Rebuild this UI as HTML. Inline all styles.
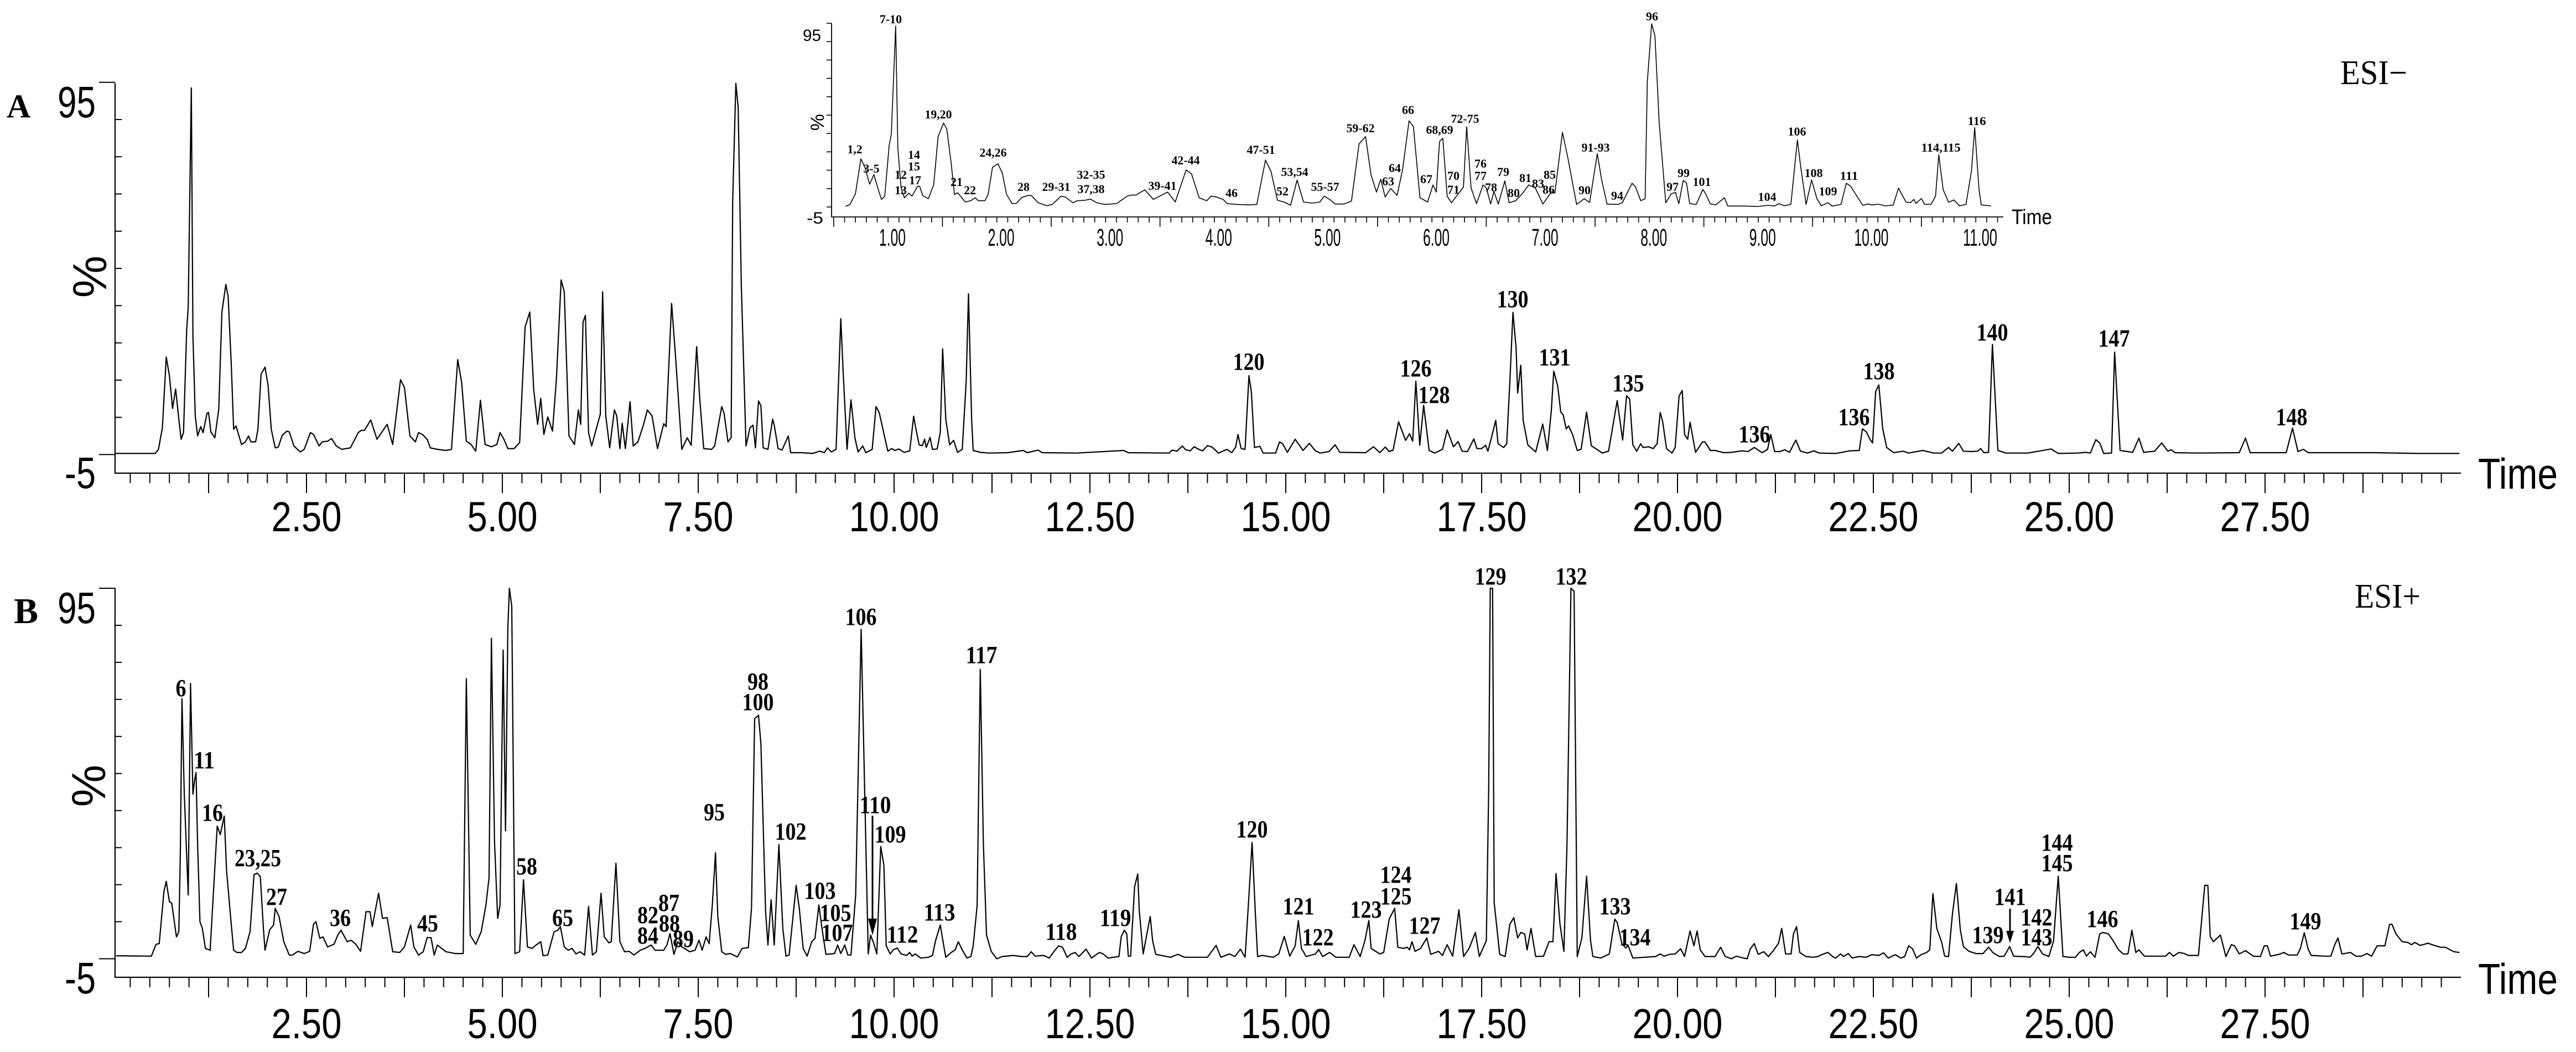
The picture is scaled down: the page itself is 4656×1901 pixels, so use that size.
<!DOCTYPE html>
<html><head><meta charset="utf-8"><style>
html,body{margin:0;padding:0;background:#fff;}
svg{display:block;}
.ax{font-family:"Liberation Sans",sans-serif;fill:#000;}
.pl{font-family:"Liberation Serif",serif;font-weight:bold;fill:#000;font-size:44px;text-anchor:middle;}
.il{font-family:"Liberation Serif",serif;font-weight:bold;fill:#000;font-size:22px;text-anchor:middle;}
</style></head><body>
<svg id="chart" width="4656" height="1901" viewBox="0 0 4656 1901" xmlns="http://www.w3.org/2000/svg">
<rect width="4656" height="1901" fill="#fff"/>
<g id="panelA">
 <text x="12" y="212" font-family="Liberation Serif" font-weight="bold" font-size="60">A</text>
 <text class="ax" x="173" y="212" font-size="80" text-anchor="end" textLength="69" lengthAdjust="spacingAndGlyphs">95</text>
 <text class="ax" x="173" y="882" font-size="80" text-anchor="end" textLength="56" lengthAdjust="spacingAndGlyphs">-5</text>
 <text class="ax" transform="translate(192,500) rotate(-90)" font-size="86" text-anchor="middle">%</text>
 <text class="ax" x="4479" y="883" font-size="78" textLength="144" lengthAdjust="spacingAndGlyphs">Time</text>
 <text x="4230" y="152" font-family="Liberation Serif" font-size="62" textLength="121" lengthAdjust="spacingAndGlyphs">ESI−</text>
 <text class="pl" x="2257" y="668">120</text>
 <text class="pl" x="2559" y="680">126</text>
 <text class="pl" x="2592" y="728">128</text>
 <text class="pl" x="2734" y="555">130</text>
 <text class="pl" x="2810" y="660">131</text>
 <text class="pl" x="2943" y="707">135</text>
 <text class="pl" x="3171" y="799">136</text>
 <text class="pl" x="3351" y="768">136</text>
 <text class="pl" x="3396" y="685">138</text>
 <text class="pl" x="3601" y="615">140</text>
 <text class="pl" x="3821" y="626">147</text>
 <text class="pl" x="4142" y="768">148</text>
</g>
<g id="inset">
 <text class="ax" x="1484" y="74" font-size="30" text-anchor="end" textLength="33" lengthAdjust="spacingAndGlyphs">95</text>
 <text class="ax" x="1488" y="404" font-size="30" text-anchor="end" textLength="30" lengthAdjust="spacingAndGlyphs">-5</text>
 <text class="ax" transform="translate(1489,221) rotate(-90)" font-size="34" text-anchor="middle">%</text>
 <text class="ax" x="3636" y="405" font-size="38" textLength="73" lengthAdjust="spacingAndGlyphs">Time</text>
 <text class="il" x="1610" y="42">7-10</text>
 <text class="il" x="1545" y="277">1,2</text>
 <text class="il" x="1575" y="312">3-5</text>
 <text class="il" x="1652" y="287">14</text>
 <text class="il" x="1652" y="308">15</text>
 <text class="il" x="1628" y="323">12</text>
 <text class="il" x="1654" y="333">17</text>
 <text class="il" x="1628" y="351">13</text>
 <text class="il" x="1696" y="214">19,20</text>
 <text class="il" x="1729" y="336">21</text>
 <text class="il" x="1753" y="351">22</text>
 <text class="il" x="1795" y="283">24,26</text>
 <text class="il" x="1850" y="345">28</text>
 <text class="il" x="1909" y="345">29-31</text>
 <text class="il" x="1972" y="323">32-35</text>
 <text class="il" x="1972" y="349">37,38</text>
 <text class="il" x="2101" y="343">39-41</text>
 <text class="il" x="2143" y="297">42-44</text>
 <text class="il" x="2226" y="356">46</text>
 <text class="il" x="2279" y="278">47-51</text>
 <text class="il" x="2318" y="353">52</text>
 <text class="il" x="2340" y="318">53,54</text>
 <text class="il" x="2395" y="345">55-57</text>
 <text class="il" x="2459" y="239">59-62</text>
 <text class="il" x="2509" y="335">63</text>
 <text class="il" x="2521" y="311">64</text>
 <text class="il" x="2545" y="206">66</text>
 <text class="il" x="2578" y="331">67</text>
 <text class="il" x="2602" y="242">68,69</text>
 <text class="il" x="2648" y="222">72-75</text>
 <text class="il" x="2627" y="325">70</text>
 <text class="il" x="2627" y="350">71</text>
 <text class="il" x="2676" y="303">76</text>
 <text class="il" x="2676" y="325">77</text>
 <text class="il" x="2695" y="346">78</text>
 <text class="il" x="2717" y="318">79</text>
 <text class="il" x="2736" y="356">80</text>
 <text class="il" x="2757" y="329">81</text>
 <text class="il" x="2780" y="339">83</text>
 <text class="il" x="2801" y="323">85</text>
 <text class="il" x="2799" y="350">86</text>
 <text class="il" x="2864" y="351">90</text>
 <text class="il" x="2884" y="274">91-93</text>
 <text class="il" x="2923" y="361">94</text>
 <text class="il" x="2986" y="37">96</text>
 <text class="il" x="3023" y="345">97</text>
 <text class="il" x="3043" y="320">99</text>
 <text class="il" x="3076" y="336">101</text>
 <text class="il" x="3194" y="363">104</text>
 <text class="il" x="3248" y="245">106</text>
 <text class="il" x="3278" y="320">108</text>
 <text class="il" x="3304" y="353">109</text>
 <text class="il" x="3342" y="325">111</text>
 <text class="il" x="3508" y="274">114,115</text>
 <text class="il" x="3573" y="226">116</text>
</g>
<g id="panelB">
 <text x="25" y="1126" font-family="Liberation Serif" font-weight="bold" font-size="66">B</text>
 <text class="ax" x="173" y="1126" font-size="80" text-anchor="end" textLength="69" lengthAdjust="spacingAndGlyphs">95</text>
 <text class="ax" x="173" y="1795" font-size="80" text-anchor="end" textLength="56" lengthAdjust="spacingAndGlyphs">-5</text>
 <text class="ax" transform="translate(190,1420) rotate(-90)" font-size="86" text-anchor="middle">%</text>
 <text class="ax" x="4479" y="1796" font-size="78" textLength="144" lengthAdjust="spacingAndGlyphs">Time</text>
 <text x="4256" y="1098" font-family="Liberation Serif" font-size="62" textLength="119" lengthAdjust="spacingAndGlyphs">ESI+</text>
 <text class="pl" x="327" y="1258">6</text>
 <text class="pl" x="369" y="1388">11</text>
 <text class="pl" x="384" y="1483">16</text>
 <text class="pl" x="466" y="1565">23,25</text>
 <text class="pl" x="500" y="1635">27</text>
 <text class="pl" x="615" y="1673">36</text>
 <text class="pl" x="773" y="1683">45</text>
 <text class="pl" x="952" y="1580">58</text>
 <text class="pl" x="1017" y="1673">65</text>
 <text class="pl" x="1171" y="1668">82</text>
 <text class="pl" x="1209" y="1646">87</text>
 <text class="pl" x="1210" y="1683">88</text>
 <text class="pl" x="1171" y="1705">84</text>
 <text class="pl" x="1235" y="1711">89</text>
 <text class="pl" x="1291" y="1482">95</text>
 <text class="pl" x="1370" y="1246">98</text>
 <text class="pl" x="1370" y="1283">100</text>
 <text class="pl" x="1429" y="1517">102</text>
 <text class="pl" x="1482" y="1624">103</text>
 <text class="pl" x="1510" y="1664">105</text>
 <text class="pl" x="1513" y="1700">107</text>
 <text class="pl" x="1556" y="1129">106</text>
 <text class="pl" x="1582" y="1469">110</text>
 <text class="pl" x="1609" y="1522">109</text>
 <text class="pl" x="1631" y="1703">112</text>
 <text class="pl" x="1698" y="1663">113</text>
 <text class="pl" x="1774" y="1198">117</text>
 <text class="pl" x="1918" y="1698">118</text>
 <text class="pl" x="2016" y="1673">119</text>
 <text class="pl" x="2263" y="1513">120</text>
 <text class="pl" x="2347" y="1652">121</text>
 <text class="pl" x="2382" y="1708">122</text>
 <text class="pl" x="2469" y="1658">123</text>
 <text class="pl" x="2523" y="1595">124</text>
 <text class="pl" x="2523" y="1634">125</text>
 <text class="pl" x="2575" y="1687">127</text>
 <text class="pl" x="2694" y="1056">129</text>
 <text class="pl" x="2840" y="1056">132</text>
 <text class="pl" x="2919" y="1652">133</text>
 <text class="pl" x="2955" y="1708">134</text>
 <text class="pl" x="3593" y="1704">139</text>
 <text class="pl" x="3633" y="1635">141</text>
 <text class="pl" x="3681" y="1672">142</text>
 <text class="pl" x="3681" y="1708">143</text>
 <text class="pl" x="3718" y="1537">144</text>
 <text class="pl" x="3718" y="1574">145</text>
 <text class="pl" x="3800" y="1675">146</text>
 <text class="pl" x="4167" y="1679">149</text>
 <g><line x1="1577" y1="1474" x2="1577" y2="1670" stroke="#000" stroke-width="3"/><polygon points="1569,1660 1585,1660 1577,1690" fill="#000"/></g>
 <g><line x1="3633" y1="1642" x2="3633" y2="1690" stroke="#000" stroke-width="3"/><polygon points="3626,1682 3640,1682 3633,1704" fill="#000"/></g>
</g>
</svg>
<script>
// ESI- (panel A) trace: retention time (min) and relative intensity (%)
const aTime=[0.05,0.57,0.61,0.66,0.71,0.75,0.79,0.83,0.87,0.90,0.93,0.97,0.99,1.03,1.05,1.08,1.11,1.15,1.18,1.23,1.25,1.28,1.33,1.38,1.42,1.47,1.50,1.54,1.57,1.60,1.67,1.72,1.76,1.79,1.85,1.88,1.92,1.97,2.01,2.05,2.10,2.14,2.19,2.25,2.28,2.34,2.42,2.47,2.55,2.59,2.66,2.70,2.77,2.82,2.88,2.95,3.06,3.16,3.20,3.24,3.32,3.40,3.47,3.53,3.60,3.70,3.75,3.82,3.89,3.93,3.98,4.04,4.08,4.17,4.28,4.35,4.43,4.48,4.54,4.60,4.66,4.72,4.78,4.86,4.93,4.97,5.02,5.07,5.15,5.22,5.29,5.35,5.40,5.45,5.49,5.53,5.58,5.64,5.69,5.75,5.79,5.85,5.92,5.97,6.00,6.03,6.06,6.10,6.14,6.20,6.25,6.28,6.32,6.37,6.43,6.46,6.50,6.53,6.57,6.63,6.67,6.73,6.80,6.85,6.91,6.98,7.06,7.09,7.16,7.21,7.29,7.36,7.41,7.48,7.52,7.57,7.67,7.71,7.80,7.83,7.88,7.92,7.94,7.98,8.01,8.05,8.11,8.16,8.20,8.23,8.27,8.30,8.33,8.39,8.45,8.47,8.52,8.57,8.65,8.68,8.82,8.96,9.05,9.11,9.15,9.20,9.26,9.32,9.35,9.40,9.45,9.50,9.54,9.60,9.64,9.72,9.77,9.81,9.92,9.97,10.01,10.06,10.13,10.20,10.25,10.27,10.32,10.36,10.39,10.41,10.46,10.49,10.55,10.59,10.62,10.66,10.71,10.76,10.81,10.87,10.92,10.95,10.99,11.01,11.10,11.21,11.45,11.65,11.70,11.84,11.89,12.33,12.93,12.99,13.51,13.55,13.61,13.68,13.72,13.78,13.83,13.89,13.94,14.00,14.06,14.14,14.25,14.31,14.36,14.39,14.43,14.48,14.53,14.56,14.60,14.67,14.71,14.87,14.92,14.96,15.02,15.12,15.22,15.30,15.38,15.44,15.55,15.63,15.69,16.02,16.12,16.20,16.27,16.32,16.37,16.44,16.53,16.58,16.62,16.66,16.71,16.76,16.83,16.90,17.00,17.06,17.14,17.20,17.25,17.32,17.40,17.44,17.50,17.55,17.58,17.62,17.68,17.71,17.78,17.82,17.86,17.90,17.94,17.96,18.00,18.03,18.09,18.19,18.28,18.34,18.39,18.42,18.47,18.51,18.54,18.58,18.61,18.66,18.72,18.77,18.84,18.90,19.04,19.12,19.23,19.30,19.35,19.39,19.43,19.48,19.53,19.56,19.63,19.69,19.74,19.78,19.81,19.86,19.93,19.97,20.02,20.06,20.09,20.13,20.16,20.23,20.32,20.35,20.42,20.48,20.59,20.69,20.82,20.90,20.98,21.08,21.15,21.19,21.24,21.31,21.37,21.43,21.51,21.57,21.66,21.74,21.81,22.02,22.20,22.32,22.36,22.41,22.46,22.49,22.53,22.57,22.62,22.67,22.76,22.88,22.95,23.13,23.27,23.37,23.46,23.51,23.59,23.65,23.75,23.83,23.87,23.91,23.97,24.02,24.09,24.19,24.47,24.77,24.86,25.11,25.21,25.27,25.34,25.39,25.44,25.54,25.58,25.65,25.81,25.89,25.95,26.09,26.18,26.26,26.30,26.35,26.65,27.17,27.25,27.31,27.77,27.85,27.92,27.99,28.05,28.89,29.45,29.98];
const aValue=[0.3,0.3,1.4,7.2,26.2,21.2,12.4,17.6,9.5,4.1,5.9,33.4,39.7,98.5,32.0,10.4,5.0,7.5,5.9,11.1,11.3,6.1,4.5,12.2,38.3,45.7,42.4,23.9,6.8,7.7,2.7,3.4,5.0,3.4,3.4,6.8,21.6,23.5,18.5,6.8,1.8,2.0,5.2,6.3,6.1,2.3,0.7,1.4,5.9,5.4,2.3,3.4,3.6,4.3,2.3,1.4,1.8,5.9,6.5,6.5,9.3,4.1,6.3,8.1,2.7,20.1,18.0,5.0,3.4,5.9,5.4,4.1,1.8,1.4,1.1,1.4,25.5,19.4,3.6,2.7,0.9,14.6,2.7,2.1,2.7,5.9,4.1,1.6,1.6,3.2,34.3,38.3,17.6,8.1,15.1,5.4,10.1,6.3,20.3,46.9,43.7,5.0,2.7,12.0,8.1,35.6,37.4,5.9,2.3,7.0,10.8,43.7,10.4,1.8,12.0,10.4,1.6,8.4,1.6,14.2,2.3,3.4,7.9,12.0,10.4,1.6,8.3,7.5,40.6,26.6,1.4,4.5,2.5,29.0,14.9,1.6,1.4,2.3,12.9,11.1,3.4,4.5,68.0,99.7,93.3,45.5,2.3,7.2,7.9,1.8,14.4,13.1,1.8,1.4,9.5,7.9,1.6,1.2,5.0,0.5,0.5,0.3,0.9,0.5,1.8,0.7,1.4,36.5,22.1,1.4,14.7,4.5,0.7,2.3,0.5,1.4,12.9,11.3,0.9,1.6,1.1,1.5,0.6,1.0,10.3,7.9,2.6,2.4,4.1,1.9,4.6,1.4,1.5,5.9,28.4,9.4,2.6,3.8,0.6,1.4,19.5,43.2,9.4,1.1,0.6,0.4,0.5,1.1,0.5,1.2,0.5,0.4,1.1,0.5,0.4,1.2,0.9,2.3,1.3,1.0,2.1,1.4,1.0,2.4,2.0,0.4,1.4,0.5,2.0,5.4,1.6,1.4,21.2,16.9,1.9,2.2,0.4,0.4,3.4,2.9,0.6,4.1,1.1,3.0,1.0,0.4,0.8,2.6,0.6,0.5,2.1,0.5,2.0,0.8,1.2,8.8,3.8,5.6,3.6,19.7,2.5,13.2,1.1,0.4,1.4,6.6,2.1,3.5,0.9,0.8,4.2,1.6,1.6,2.5,0.9,4.1,9.2,2.9,1.9,2.9,19.5,38.2,28.5,16.5,24.0,9.2,2.6,0.7,8.2,1.1,11.9,22.4,18.5,11.4,10.7,6.9,7.7,5.4,1.1,1.4,11.4,2.4,0.4,0.9,14.5,3.9,15.8,14.9,2.6,0.9,2.9,1.9,2.1,1.6,2.9,11.3,8.9,1.6,0.4,1.9,15.7,17.2,5.4,4.1,8.7,0.6,3.4,3.4,1.1,1.1,0.5,0.6,1.0,0.8,1.9,0.5,1.4,5.4,0.8,0.8,1.3,0.6,3.9,0.9,0.4,1.0,0.4,0.3,1.0,1.1,6.9,6.1,4.0,3.1,16.9,18.7,6.9,1.9,0.5,0.9,0.4,1.1,0.4,0.4,1.9,0.9,3.0,0.9,0.8,0.9,1.6,0.5,0.6,29.6,1.1,0.4,0.4,1.5,0.3,0.4,0.6,0.4,4.0,3.1,0.3,0.4,27.5,1.1,0.6,4.4,0.6,0.9,3.1,0.9,1.3,0.5,0.4,0.5,4.4,0.5,0.5,7.1,0.8,1.4,0.5,0.5,0.3,0.3];
// ESI+ (panel B) trace
const bTime=[0.07,0.52,0.58,0.62,0.68,0.71,0.75,0.78,0.84,0.87,0.89,0.91,0.94,0.99,1.02,1.05,1.07,1.09,1.11,1.14,1.17,1.21,1.27,1.31,1.36,1.40,1.45,1.48,1.54,1.57,1.61,1.67,1.72,1.78,1.83,1.87,1.91,1.95,1.97,2.03,2.08,2.10,2.15,2.21,2.28,2.32,2.39,2.47,2.54,2.59,2.62,2.67,2.71,2.77,2.85,2.90,2.94,3.02,3.07,3.13,3.19,3.26,3.31,3.34,3.42,3.47,3.53,3.60,3.69,3.75,3.83,3.87,3.93,3.99,4.04,4.09,4.13,4.17,4.28,4.40,4.50,4.54,4.59,4.66,4.73,4.79,4.83,4.86,4.90,4.94,4.97,5.01,5.04,5.07,5.09,5.12,5.16,5.22,5.27,5.32,5.38,5.43,5.49,5.52,5.58,5.66,5.71,5.74,5.79,5.84,5.89,5.94,5.99,6.05,6.10,6.15,6.20,6.26,6.30,6.36,6.39,6.45,6.50,6.56,6.62,6.68,6.76,6.82,6.90,6.95,7.06,7.10,7.14,7.19,7.24,7.29,7.34,7.39,7.46,7.51,7.55,7.60,7.64,7.68,7.72,7.75,7.80,7.85,7.91,8.00,8.06,8.14,8.18,8.22,8.27,8.30,8.36,8.39,8.43,8.47,8.53,8.58,8.62,8.66,8.75,8.79,8.84,8.89,8.95,8.99,9.04,9.08,9.13,9.24,9.28,9.32,9.37,9.41,9.45,9.51,9.58,9.67,9.70,9.74,9.78,9.83,9.87,9.90,9.95,9.99,10.04,10.09,10.16,10.20,10.23,10.27,10.34,10.44,10.49,10.53,10.59,10.64,10.66,10.73,10.78,10.82,10.87,10.93,10.98,11.01,11.06,11.10,11.14,11.18,11.24,11.31,11.38,11.52,11.63,11.70,11.75,11.80,11.91,11.98,12.05,12.10,12.15,12.21,12.26,12.31,12.36,12.45,12.52,12.62,12.67,12.73,12.87,12.90,12.94,12.97,12.99,13.02,13.07,13.11,13.13,13.18,13.23,13.27,13.30,13.34,13.53,13.62,13.71,14.00,14.11,14.17,14.28,14.35,14.42,14.48,14.52,14.57,14.61,14.64,14.70,14.84,14.91,14.98,15.05,15.12,15.16,15.20,15.26,15.38,15.42,15.47,15.56,15.64,15.81,15.87,15.95,16.01,16.06,16.09,16.20,16.25,16.32,16.39,16.43,16.50,16.55,16.58,16.61,16.65,16.72,16.80,16.85,16.95,17.00,17.06,17.13,17.21,17.27,17.34,17.42,17.47,17.56,17.59,17.61,17.64,17.66,17.73,17.80,17.86,17.91,17.96,18.00,18.05,18.08,18.13,18.19,18.29,18.36,18.41,18.45,18.50,18.55,18.59,18.64,18.68,18.72,18.78,18.84,18.89,18.92,19.02,19.13,19.20,19.23,19.29,19.34,19.37,19.43,19.72,19.78,19.83,19.90,19.97,20.04,20.09,20.16,20.21,20.25,20.29,20.35,20.48,20.55,20.61,20.69,20.75,20.84,20.89,20.93,20.98,21.03,21.10,21.16,21.22,21.29,21.33,21.38,21.45,21.48,21.52,21.56,21.64,21.73,21.79,21.85,21.92,21.98,22.02,22.08,22.12,22.18,22.23,22.32,22.41,22.48,22.57,22.63,22.69,22.78,22.85,22.90,22.95,23.00,23.05,23.11,23.18,23.22,23.26,23.31,23.37,23.41,23.46,23.51,23.56,23.61,23.65,23.72,23.81,23.90,23.97,24.03,24.11,24.17,24.24,24.29,24.37,24.43,24.50,24.54,24.60,24.66,24.74,24.80,24.86,24.92,25.00,25.08,25.13,25.18,25.22,25.27,25.33,25.39,25.43,25.50,25.56,25.63,25.69,25.75,25.80,25.85,25.89,25.96,26.09,26.23,26.28,26.33,26.40,26.47,26.52,26.65,26.73,26.77,26.80,26.84,26.93,27.00,27.07,27.11,27.17,27.25,27.35,27.44,27.49,27.53,27.57,27.68,27.74,27.80,27.91,27.95,28.00,28.05,28.09,28.26,28.34,28.39,28.43,28.48,28.54,28.59,28.66,28.73,28.80,28.86,28.93,29.03,29.09,29.12,29.17,29.25,29.32,29.37,29.41,29.48,29.58,29.66,29.74,29.80,29.91,29.98];
const bValue=[0.8,0.7,3.9,4.1,18.2,20.9,15.4,15.0,5.9,7.3,29.0,70.2,44.4,17.2,74.3,44.4,48.0,50.3,30.8,10.0,8.2,2.8,2.3,17.2,35.8,33.5,38.5,23.6,9.1,2.3,1.7,1.7,2.8,7.3,22.7,23.1,22.2,8.2,2.3,7.8,9.1,13.6,11.4,4.6,1.0,1.0,2.0,1.4,2.0,9.3,10.0,5.5,5.9,3.2,3.9,6.4,7.7,4.6,5.0,3.9,2.0,12.7,12.7,8.7,17.7,10.9,11.1,1.9,1.7,3.2,9.1,3.2,1.0,1.9,5.7,5.7,1.0,3.7,1.9,1.4,1.4,75.6,6.4,3.9,7.3,14.5,21.8,86.5,31.7,10.9,14.5,83.3,34.5,89.2,100,95.1,1.4,1.9,21.3,3.2,2.8,3.7,4.6,0.8,1.0,7.3,7.7,8.7,3.2,2.3,2.8,1.3,1.9,1.0,14.1,1.0,1.9,17.7,5.9,4.3,4.6,25.8,4.6,1.9,2.0,1.0,2.3,2.8,3.7,2.3,2.3,3.7,6.8,1.2,4.6,3.2,2.6,1.9,2.3,5.0,2.3,5.9,4.1,14.5,28.6,11.4,1.9,1.2,1.4,0.5,2.8,3.0,13.6,64.8,65.7,58.0,12.7,3.7,15.9,3.7,30.8,8.2,0.7,1.0,19.8,13.6,2.8,0.7,4.6,5.5,14.5,8.2,1.2,1.4,3.7,1.4,3.7,1.0,1.0,17.2,88.9,1.3,6.4,4.2,1.3,30.3,25.2,3.5,1.3,2.4,2.9,1.3,0.9,1.7,0.7,1.3,0.2,0.4,0.9,4.9,9.1,2.8,0.4,1.7,2.4,4.6,2.4,0.2,0.6,3.5,14.3,78.1,31.0,6.4,2.0,0.0,0.6,0.9,0.6,0.6,1.9,0.7,0.9,0.2,2.2,3.5,3.1,0.4,1.3,1.7,0.6,2.6,0.2,1.7,1.3,0.2,0.6,6.0,7.7,6.7,0.7,0.7,19.4,22.9,12.9,1.3,7.1,11.4,4.9,1.2,0.4,1.2,0.4,0.4,3.6,0.4,1.3,0.6,2.6,0.4,13.6,31.4,12.9,0.6,0.9,0.4,1.3,6.0,0.7,3.5,10.3,2.8,0.6,1.3,2.5,0.6,1.7,0.4,0.4,3.8,0.6,4.9,10.3,2.8,1.3,1.7,10.7,13.6,3.1,2.8,3.1,2.4,4.6,2.0,2.8,5.6,1.2,2.0,0.9,3.8,0.7,13.2,0.6,2.8,7.1,0.6,4.9,45.5,100,100,15.1,1.2,0.6,9.3,11.1,5.6,7.1,6.7,2.4,8.2,0.6,0.7,4.6,4.6,23.0,9.3,2.0,31.0,100,99.2,0.6,5.6,22.3,4.9,0.6,0.2,1.3,10.7,9.8,4.1,2.9,3.6,0.2,0.6,1.3,0.7,1.2,1.3,2.7,0.6,7.5,3.5,7.5,2.4,0.6,0.6,3.1,0.6,0.0,0.7,0.2,0.0,2.7,4.1,1.2,1.9,0.6,2.1,4.2,8.2,1.3,1.3,6.7,8.7,1.7,0.6,0.4,0.6,1.2,1.7,0.6,0.2,1.3,0.6,1.4,0.2,0.6,0.4,1.1,0.9,1.6,0.2,1.1,0.2,0.6,3.5,2.7,0.2,1.1,1.7,2.4,17.6,8.2,4.6,0.7,0.6,12.2,20.3,7.8,3.3,2.0,1.4,1.4,3.1,1.6,0.6,0.7,3.3,0.7,0.6,0.6,0.4,1.3,3.3,1.3,0.6,4.8,22.3,0.6,0.4,0.4,1.7,2.4,0.7,1.9,0.4,6.7,7.1,6.7,4.9,2.4,1.3,1.3,7.7,1.7,2.4,0.7,0.7,0.7,1.7,0.7,1.7,1.4,0.9,0.9,19.8,19.8,6.0,4.6,6.4,0.6,3.8,3.5,1.3,2.2,0.7,0.6,3.5,3.5,0.7,1.2,1.7,1.0,1.0,2.7,7.0,2.6,0.9,0.7,0.7,3.8,5.6,1.3,1.5,1.7,0.7,0.7,1.4,0.7,3.5,3.5,9.3,9.3,6.7,4.6,4.4,3.8,4.4,3.6,4.2,3.6,3.1,3.1,1.9,1.7];
// axis definitions
const mainTickLabels=["2.50","5.00","7.50","10.00","12.50","15.00","17.50","20.00","22.50","25.00","27.50"];
const mainTickValues=[2.5,5,7.5,10,12.5,15,17.5,20,22.5,25,27.5];
const insetTickLabels=["1.00","2.00","3.00","4.00","5.00","6.00","7.00","8.00","9.00","10.00","11.00"];
const insetTickValues=[1,2,3,4,5,6,7,8,9,10,11];
const yTickValues=[100,90,80,70,60,50,40,30,20,10,0];

const NS="http://www.w3.org/2000/svg";
const svg=document.getElementById('chart');
const xMain=t=>200+t*141.6;
const yA=v=>821.4-v*6.727;
const yB=v=>1732.5-v*6.695;
const xIn=t=>1613+(t-1)*196.6;
const yIn=v=>374-v*3.32;

function mk(tag,attrs,parent){const e=document.createElementNS(NS,tag);for(const k in attrs)e.setAttribute(k,attrs[k]);(parent||svg).appendChild(e);return e;}

function drawAxes(yTop,yAx,yFn,labelBase,prefix){
  const ax=mk('path',{d:`M208 ${yTop} L208 ${yAx} L4448 ${yAx}`,fill:'none',stroke:'#000','stroke-width':2.2});
  
  
  yTickValues.forEach((v,i)=>{
    const y=yFn(v);
    const left=(i===0||i===yTickValues.length-1);
    const tk=mk('line',{x1:left?179:208,x2:left?208:220,y1:y,y2:y,stroke:'#000','stroke-width':2});
    
    
  });
  for(let k=1;k<=119;k++){
    const t=k*0.25;const x=xMain(t);
    const long=(k%5===0);
    const tk=mk('line',{x1:x,x2:x,y1:yAx,y2:yAx+(long?36:18),stroke:'#000','stroke-width':2});
    
    
  }
  mainTickValues.forEach((t,i)=>{
    const s=mainTickLabels[i];
    const tx=mk('text',{x:xMain(t),y:labelBase,'font-size':76,'text-anchor':'middle',class:'ax',textLength:s.length>4?163:127,lengthAdjust:'spacingAndGlyphs'});
    tx.textContent=s;
    
    
  });
}
drawAxes(150,855,yA,960,'a');
drawAxes(1063,1766,yB,1876,'b');

function trace(ts,vs,xf,yf,t0,t1,w,name){
  let d='';
  ts.forEach((t,i)=>{ if(t<t0||t>t1) return; d+=(d?'L':'M')+xf(t).toFixed(1)+' '+yf(vs[i]).toFixed(1); });
  const p=mk('path',{d:d,fill:'none',stroke:'#000','stroke-width':w,'stroke-linejoin':'round'});
  
  
}
trace(aTime,aValue,xMain,yA,0,30,2.2,'esi-negative-trace');
trace(bTime,bValue,xMain,yB,0,30,2.2,'esi-positive-trace');

// inset axes
const iax=mk('path',{d:'M1503 42 L1503 392 L3621 392',fill:'none',stroke:'#000','stroke-width':1.8});


yTickValues.forEach(v=>{
  const tk=mk('line',{x1:1494,x2:1503,y1:yIn(v),y2:yIn(v),stroke:'#000','stroke-width':1.6});
  
  
});
for(let k=0;k<=107;k++){
  const t=0.46+k*0.1;const x=xIn(t);
  const tk=mk('line',{x1:x,x2:x,y1:392,y2:392+(k%10===0?18:10),stroke:'#000','stroke-width':1.6});
  
  
}
insetTickValues.forEach((t,i)=>{
  const s=insetTickLabels[i];
  const tx=mk('text',{x:xIn(t),y:444,'font-size':44,'text-anchor':'middle',class:'ax',textLength:s.length>4?62:48,lengthAdjust:'spacingAndGlyphs'});
  tx.textContent=s;
  
  
});
trace(aTime,aValue,xIn,yIn,0.45,11.17,1.6,'inset-trace');

// compress label widths (condensed look)
document.querySelectorAll('.pl').forEach(e=>{const s=e.textContent;let w=0;for(const c of s)w+=(c===','?8:(c==='-'?10:19));e.setAttribute('textLength',w);e.setAttribute('lengthAdjust','spacingAndGlyphs');});
document.querySelectorAll('.il').forEach(e=>{const s=e.textContent;let w=0;for(const c of s)w+=(c===','?5:(c==='-'?7:11));e.setAttribute('textLength',w);e.setAttribute('lengthAdjust','spacingAndGlyphs');});
</script>
</body></html>
